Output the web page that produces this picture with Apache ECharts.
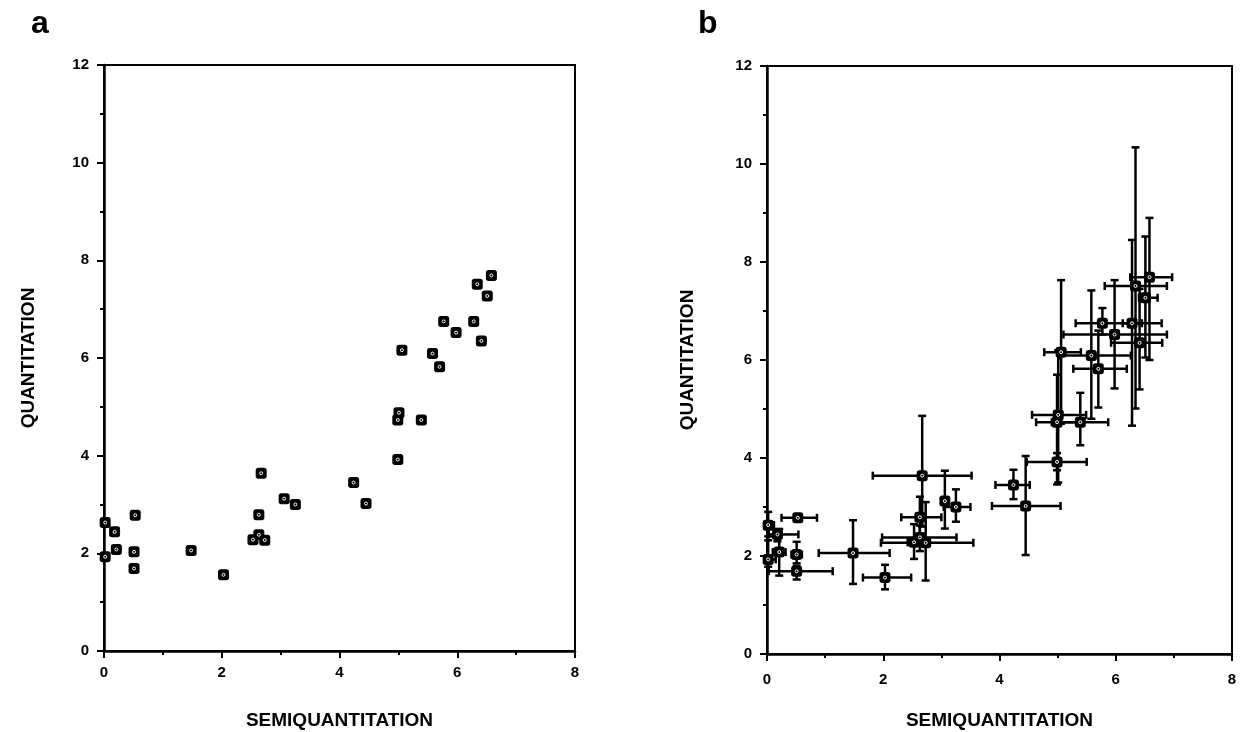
<!DOCTYPE html>
<html><head><meta charset="utf-8">
<script src="https://cdn.jsdelivr.net/npm/echarts@6/dist/echarts.min.js"></script>
<style>html,body{margin:0;padding:0;background:#fff}#c{width:1244px;height:732px}</style>
</head><body><div id="c"></div>
<script>
// Semiquantitation (x) and quantitation (y) for each sample
const semiquant = [0.02,0.02,0.18,0.21,0.53,0.51,0.51,1.48,2.03,2.53,2.63,2.73,2.63,2.67,3.06,3.25,4.24,4.45,4.99,4.99,5.01,5.39,5.06,5.58,5.70,5.77,5.98,6.28,6.41,6.34,6.51,6.58];
const quant     = [2.63,1.93,2.44,2.08,2.78,2.03,1.69,2.06,1.56,2.28,2.38,2.27,2.79,3.64,3.12,3.00,3.45,3.02,3.92,4.73,4.88,4.73,6.16,6.09,5.82,6.75,6.52,6.75,6.35,7.51,7.27,7.69];
// error-bar extents (panel b)
const semiLow   = [0.00,0.00,0.03,0.10,0.25,0.42,0.03,0.89,1.65,2.42,1.98,1.96,2.31,1.82,3.00,3.04,3.93,3.87,4.47,4.63,4.56,4.90,4.77,5.02,5.27,5.31,5.10,6.12,5.92,5.81,6.40,6.25];
const semiHigh  = [0.12,0.15,0.54,0.32,0.86,0.60,1.13,2.11,2.48,2.64,3.26,3.55,3.00,3.52,3.12,3.50,4.52,5.05,5.50,5.35,5.49,5.87,5.40,6.26,6.19,6.79,6.88,6.45,6.80,6.88,6.72,6.97];
const quantLow  = [2.40,1.78,2.30,1.60,2.72,1.85,1.52,1.43,1.32,1.94,2.10,1.50,2.40,2.60,2.56,2.70,3.16,2.02,3.46,3.75,3.50,4.26,4.70,4.80,5.03,6.52,5.42,4.66,5.40,5.01,6.05,6.00];
const quantHigh = [2.90,2.32,2.55,2.55,2.84,2.29,1.80,2.73,1.82,2.65,2.62,3.10,3.21,4.86,3.74,3.36,3.76,4.04,4.10,5.70,6.20,5.33,7.63,7.42,6.60,7.06,7.63,8.45,7.45,10.34,8.52,8.90];
const xTickValues = [0,2,4,6,8];
const yTickValues = [0,2,4,6,8,10,12];
const xTitle = 'SEMIQUANTITATION';
const yTitle = 'QUANTITATION';
const panelLabels = ['a','b'];

const points = semiquant.map((x,i)=>[x, quant[i]]);
const bars = semiquant.map((x,i)=>[x, quant[i], semiLow[i], semiHigh[i], quantLow[i], quantHigh[i]]);

const FONT = '"Liberation Sans", Arial, Helvetica, sans-serif';

function xAxisFor(g, gap, margin){
  return {type:'value', gridIndex:g, min:xTickValues[0], max:xTickValues[xTickValues.length-1], interval:2,
    name:xTitle, nameLocation:'middle', nameGap:gap,
    nameTextStyle:{fontFamily:FONT, fontWeight:'bold', fontSize:19, color:'#000'},
    axisLine:{show:true, lineStyle:{color:'#000', width:2.5}},
    axisTick:{show:true, inside:false, length:7, lineStyle:{color:'#000', width:2}},
    minorTick:{show:true, splitNumber:2, length:4, lineStyle:{color:'#000', width:2}},
    splitLine:{show:false},
    axisLabel:{margin:margin, fontFamily:FONT, fontSize:15, fontWeight:'bold', color:'#000'}};
}
function yAxisFor(g, gap){
  return {type:'value', gridIndex:g, min:yTickValues[0], max:yTickValues[yTickValues.length-1], interval:2,
    name:yTitle, nameLocation:'middle', nameGap:gap, nameRotate:90,
    nameTextStyle:{fontFamily:FONT, fontWeight:'bold', fontSize:19, color:'#000'},
    axisLine:{show:true, lineStyle:{color:'#000', width:2.5}},
    axisTick:{show:true, inside:false, length:7, lineStyle:{color:'#000', width:2}},
    minorTick:{show:true, splitNumber:2, length:4, lineStyle:{color:'#000', width:2}},
    splitLine:{show:false},
    axisLabel:{margin:15, fontFamily:FONT, fontSize:15, fontWeight:'bold', color:'#000'}};
}

function markerSeries(g){
  return [
    {type:'scatter', xAxisIndex:g, yAxisIndex:g, data:points, symbol:'roundRect', symbolSize:11,
     itemStyle:{color:'#000', opacity:1}, z:5, silent:true},
    {type:'scatter', xAxisIndex:g, yAxisIndex:g, data:points, symbol:'circle', symbolSize:3,
     itemStyle:{color:'#000', borderColor:'#fff', borderWidth:1, opacity:1}, z:6, silent:true}
  ];
}

const errSeries = {
  type:'custom', xAxisIndex:1, yAxisIndex:1, data:bars, z:3, silent:true,
  renderItem:function(params, api){
    const x=api.value(0), y=api.value(1);
    const l=api.coord([api.value(2), y]), r=api.coord([api.value(3), y]);
    const b=api.coord([x, api.value(4)]), t=api.coord([x, api.value(5)]);
    const cap=4;
    const st={stroke:'#000', lineWidth:2.5};
    const line=(x1,y1,x2,y2)=>({type:'line', shape:{x1,y1,x2,y2}, style:st});
    return {type:'group', children:[
      line(l[0],l[1],r[0],r[1]),
      line(l[0],l[1]-cap,l[0],l[1]+cap),
      line(r[0],r[1]-cap,r[0],r[1]+cap),
      line(b[0],b[1],t[0],t[1]),
      line(b[0]-cap,b[1],b[0]+cap,b[1]),
      line(t[0]-cap,t[1],t[0]+cap,t[1])
    ]};
  }
};

const option = {
  animation:false,
  backgroundColor:'#fff',
  title:[
    {text:panelLabels[0], left:26, top:3, textStyle:{fontFamily:FONT, fontWeight:'bold', fontSize:32, color:'#000'}},
    {text:panelLabels[1], left:693, top:3, textStyle:{fontFamily:FONT, fontWeight:'bold', fontSize:32, color:'#000'}}
  ],
  grid:[
    {left:104, top:65, right:669, bottom:81, containLabel:false, outerBoundsMode:'none', show:true, borderColor:'#000', borderWidth:2, backgroundColor:'transparent'},
    {left:767, top:66, right:12, bottom:78, containLabel:false, outerBoundsMode:'none', show:true, borderColor:'#000', borderWidth:2, backgroundColor:'transparent'}
  ],
  xAxis:[xAxisFor(0,60,14), xAxisFor(1,57,18)],
  yAxis:[yAxisFor(0,66), yAxisFor(1,70)],
  series:[errSeries, ...markerSeries(0), ...markerSeries(1)]
};
const chart = echarts.init(document.getElementById('c'), null, {renderer:'canvas'});
chart.setOption(option);
</script></body></html>
